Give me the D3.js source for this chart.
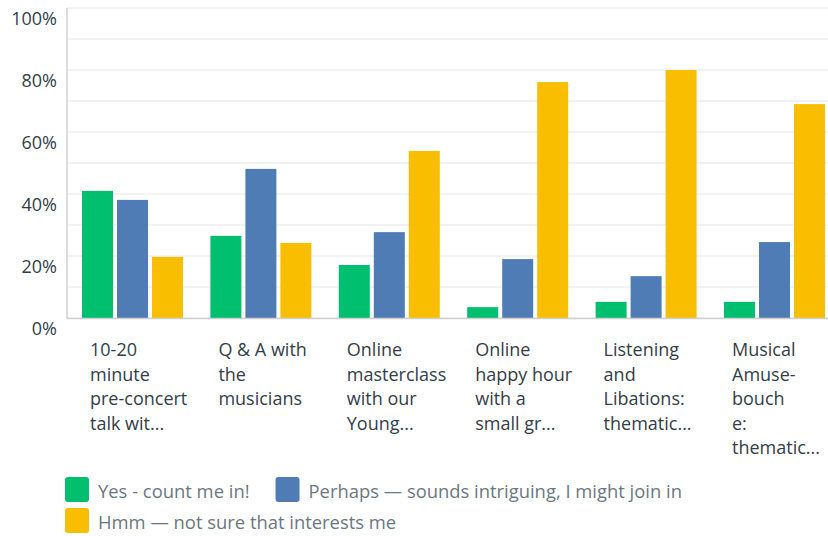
<!DOCTYPE html>
<html>
<head>
<meta charset="utf-8">
<script src="https://cdn.jsdelivr.net/npm/d3@7"></script>
<style>
  html, body { margin: 0; padding: 0; background: #ffffff; }
  svg { display: block; font-family: "Open Sans", "Noto Sans", sans-serif; }
</style>
</head>
<body>
<svg id="chart" width="828" height="536"></svg>
<script>
// Survey answers per proposed event, in percent of respondents
const categories = [
  ["10-20", "minute", "pre-concert", "talk wit..."],
  ["Q & A with", "the", "musicians"],
  ["Online", "masterclass", "with our", "Young..."],
  ["Online", "happy hour", "with a", "small gr..."],
  ["Listening", "and", "Libations:", "thematic..."],
  ["Musical", "Amuse-", "bouch", "e:", "thematic..."]
];
const seriesNames = [
  "Yes - count me in!",
  "Perhaps \u2014 sounds intriguing, I might join in",
  "Hmm \u2014 not sure that interests me"
];
const yesValues     = [41.0, 26.5, 17.1, 3.5, 5.2, 5.2];
const perhapsValues = [38.1, 48.1, 27.7, 19.0, 13.5, 24.5];
const hmmValues     = [19.7, 24.2, 53.9, 76.1, 80.0, 69.0];
const seriesColors  = ["#00bf6f", "#507cb6", "#f9be00"];
const yTicks = [0, 20, 40, 60, 80, 100];
const yGrid  = [0, 10, 20, 30, 40, 50, 60, 70, 80, 90, 100];

const series = [yesValues, perhapsValues, hmmValues];
const W = 828, H = 536;
const plot = { left: 67, top: 8, bottom: 318, bandStep: 128.4 };

const svg = d3.select("#chart");

const x0 = d3.scaleBand()
  .domain(d3.range(categories.length))
  .range([plot.left, plot.left + plot.bandStep * categories.length])
  .padding(0);

const x1 = d3.scaleBand()
  .domain(d3.range(series.length))
  .range([15, 116])
  .paddingInner(4 / 35)
  .paddingOuter(0);

const y = d3.scaleLinear().domain([0, 100]).range([plot.bottom, plot.top]);

// horizontal grid
svg.append("g")
  .selectAll("line")
  .data(yGrid)
  .join("line")
  .attr("x1", plot.left)
  .attr("x2", W)
  .attr("y1", d => y(d))
  .attr("y2", d => y(d))
  .attr("stroke", "#efefef")
  .attr("stroke-width", 1.6);

// y tick labels sit just below their grid line
svg.append("g")
  .selectAll("text")
  .data(yTicks)
  .join("text")
  .attr("x", 57)
  .attr("y", d => y(d) + 10)
  .attr("text-anchor", "end")
  .attr("dominant-baseline", "central")
  .attr("fill", "#333e48")
  .style("font-size", "18px")
  .text(d => d + "%");

// bars
const groups = svg.append("g")
  .selectAll("g")
  .data(categories.map((c, i) => i))
  .join("g")
  .attr("transform", i => `translate(${x0(i)},0)`);

groups.selectAll("rect")
  .data(i => series.map((vals, s) => ({ s, v: vals[i] })))
  .join("rect")
  .attr("x", d => x1(d.s))
  .attr("width", x1.bandwidth())
  .attr("y", d => y(d.v))
  .attr("height", d => y(0) - y(d.v))
  .attr("fill", d => seriesColors[d.s]);

// axis lines
svg.append("line")
  .attr("x1", plot.left).attr("x2", plot.left)
  .attr("y1", plot.top).attr("y2", plot.bottom + 1)
  .attr("stroke", "#d2d2d2").attr("stroke-width", 1.5);
svg.append("line")
  .attr("x1", plot.left).attr("x2", W)
  .attr("y1", plot.bottom + 0.5).attr("y2", plot.bottom + 0.5)
  .attr("stroke", "#cfcfcf").attr("stroke-width", 1.5);

// category labels, wrapped lines left-aligned under each group
const xl = svg.append("g")
  .selectAll("text")
  .data(categories.map((lines, i) => ({ lines, i })))
  .join("text")
  .attr("x", d => x0(d.i) + 23)
  .attr("y", 349)
  .attr("fill", "#333e48")
  .style("font-size", "18px");
xl.selectAll("tspan")
  .data(d => d.lines.map(t => ({ t, x: x0(d.i) + 23 })))
  .join("tspan")
  .attr("x", d => d.x)
  .attr("dy", (d, k) => k === 0 ? 0 : 24.5)
  .attr("dominant-baseline", "central")
  .text(d => d.t);

// legend, flowing left to right and wrapping
const legend = svg.append("g");
let lx = 65, ly = 477;
seriesNames.forEach((name, s) => {
  const item = legend.append("g");
  item.append("rect")
    .attr("width", 24).attr("height", 25)
    .attr("rx", 3).attr("ry", 3)
    .attr("fill", seriesColors[s]);
  const t = item.append("text")
    .attr("x", 33).attr("y", 13)
    .attr("dominant-baseline", "central")
    .attr("fill", "#6b787f")
    .style("font-size", "18.4px")
    .text(name);
  const w = 33 + t.node().getComputedTextLength();
  if (lx > 65 && lx + w > W - 20) { lx = 65; ly += 31; }
  item.attr("transform", `translate(${lx},${ly})`);
  lx += w + 26;
});
</script>
</body>
</html>
